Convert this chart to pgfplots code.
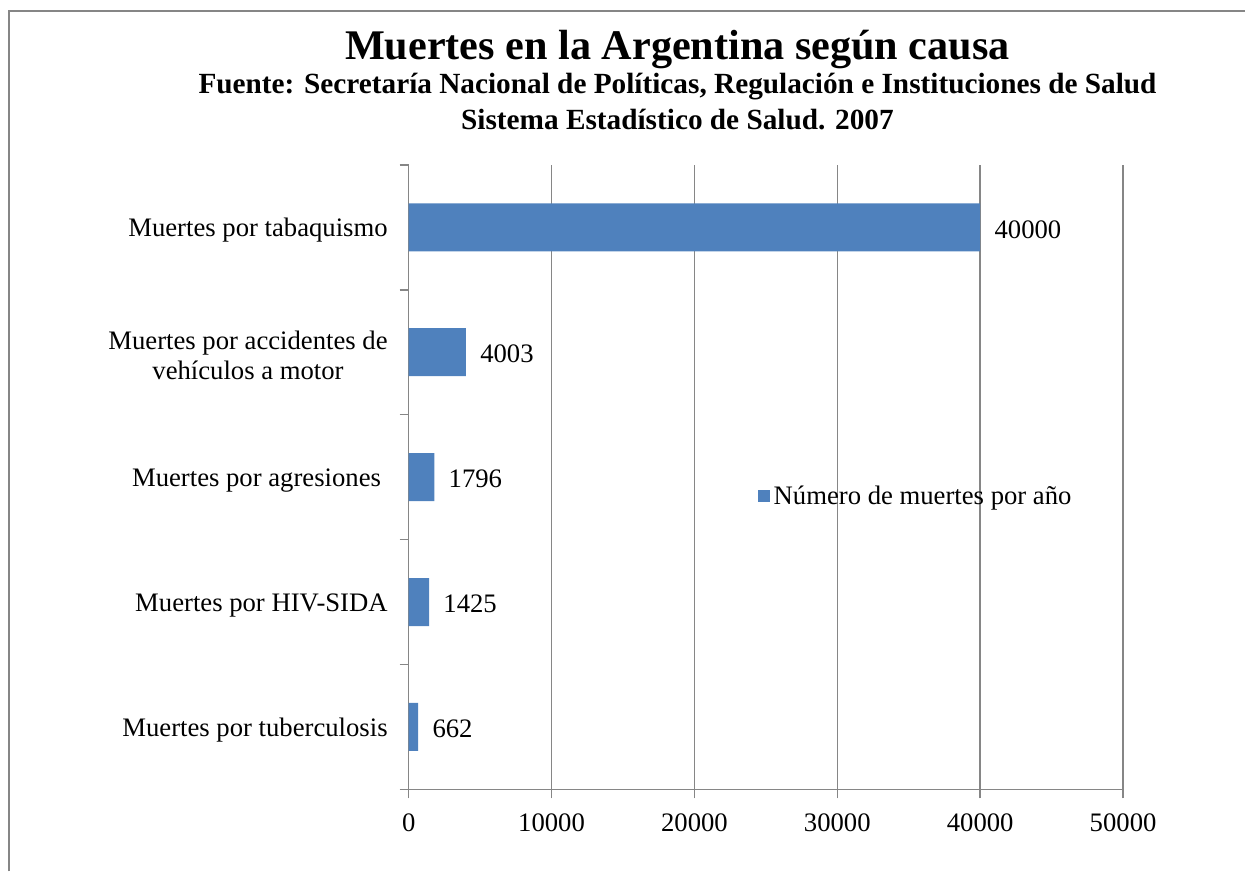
\documentclass[border=0pt]{standalone}
\usepackage{pgfplots}
\pgfplotsset{compat=1.18}
\usepackage{fontspec}
\setmainfont{Liberation Serif}
\definecolor{barblue}{RGB}{79,129,189}
\definecolor{gridgray}{RGB}{134,134,134}
\begin{document}
\begin{tikzpicture}
\path (0,0) rectangle (623bp,-435.5bp);
\draw[gridgray, line width=1bp] (4.5bp,-436bp) -- (4.5bp,-5.5bp) -- (623bp,-5.5bp);
\node[font=\fontsize{21.2}{24}\selectfont\bfseries] at (339bp,-25bp) {Muertes en la Argentina según causa};
\node[font=\fontsize{14.7}{17}\selectfont\bfseries] at (339bp,-43.5bp) {Fuente: Secretaría Nacional de Políticas, Regulación e Instituciones de Salud};
\node[font=\fontsize{14.7}{17}\selectfont\bfseries] at (339bp,-60bp) {Sistema Estadístico de Salud. 2007};
\begin{axis}[
  at={(204.5bp,-395bp)}, anchor=south west,
  scale only axis, width=357.5bp, height=312.5bp,
  xbar, bar width=24bp,
  xmin=0, xmax=50000, ymin=0.5, ymax=5.5,
  axis lines*=left,
  axis line style={gridgray, line width=0.8bp},
  xtick={0,10000,...,50000},
  scaled x ticks=false,
  /pgf/number format/.cd, 1000 sep={}, assume math mode=true,
  /pgfplots/.cd,
  xmajorgrids, grid style={gridgray, line width=0.8bp},
  tick align=outside,
  tick style={gridgray, line width=0.8bp},
  major tick length=4.5bp,
  ytick={0.5,1.5,...,5.5},
  yticklabels={},
  extra y ticks={1,2,3,4,5},
  extra y tick labels={Muertes por tuberculosis, Muertes por HIV-SIDA, Muertes por agresiones\ , {Muertes por accidentes de\\vehículos a motor}, Muertes por tabaquismo},
  extra y tick style={major tick length=0pt, yticklabel style={align=center, font=\fontsize{13.4}{15}\selectfont, xshift=-7bp, yshift=-1.5bp}},
  xticklabel style={font=\fontsize{13.4}{15}\selectfont, yshift=-4bp},
  nodes near coords,
  every node near coord/.append style={font=\fontsize{13.4}{15}\selectfont, anchor=west, inner sep=0pt, xshift=7bp, yshift=-1bp, text=black},
  legend style={at={(rel axis cs:0.488,0.469)}, anchor=west, draw=none, fill=none, inner sep=0pt, font=\fontsize{13.4}{15}\selectfont},
  legend cell align=left,
]
\addplot[fill=barblue, draw=none, legend image code/.code={\fill[barblue] (0bp,-3bp) rectangle (6bp,3bp);}] coordinates {
  (662,1) (1425,2) (1796,3) (4003,4) (40000,5)
};
\legend{Número de muertes por año}
\end{axis}
\end{tikzpicture}
\end{document}
